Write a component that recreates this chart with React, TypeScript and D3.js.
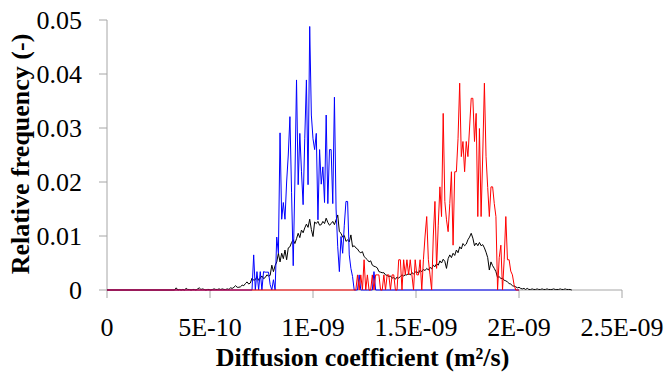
import React from "react";
import * as d3 from "d3";

// diffusion coefficient step between histogram bins (m2/s)
const binStep = 8e-12;

const xTicks = [0, 5e-10, 1e-9, 1.5e-9, 2e-9, 2.5e-9];
const xTickLabels = ["0", "5E-10", "1E-09", "1.5E-09", "2E-09", "2.5E-09"];
const yTicks = [0, 0.01, 0.02, 0.03, 0.04, 0.05];
const yTickLabels = ["0", "0.01", "0.02", "0.03", "0.04", "0.05"];

// blue series, first bin index 88
const blueStart = 88;
const blueValues = [
  0, 0.0065, 0, 0.0034, 0, 0.0034, 0, 0.0034, 0.0033, 0.0033,
  0.0033, 0.001, 0, 0.0019, 0, 0.0098, 0.0068, 0.0291, 0.0131, 0.0162,
  0.0131, 0.02, 0.025, 0.0321, 0.018, 0.0045, 0.02, 0.0389, 0.0195, 0.029,
  0.022, 0.0158, 0.028, 0.0389, 0.0195, 0.0488, 0.0324, 0.028, 0.026, 0.029,
  0.013, 0.026, 0.0196, 0.0228, 0.0162, 0.0324, 0.016, 0.026, 0.026, 0.016,
  0.0357, 0.015, 0.008, 0.0034, 0.0099, 0.0068, 0.012, 0.0164, 0.0164, 0.0065,
  0.004, 0.0025, 0, 0, 0, 0.0028, 0, 0, 0, 0,
  0, 0, 0, 0, 0.0034, 0,
];
const blueEnd = 2e-9;

// red series, first bin index 150
const redStart = 150;
const redValues = [
  0, 0, 0.0028, 0, 0.0028, 0, 0.0056, 0, 0.0028, 0,
  0, 0.0028, 0, 0.0028, 0.0028, 0.0028, 0, 0, 0.0028, 0,
  0.0028, 0.0028, 0, 0.0028, 0.0028, 0, 0, 0.0056, 0.0056, 0,
  0.0056, 0.0028, 0.0056, 0.0028, 0.0056, 0.0028, 0, 0.0056, 0.0028, 0.0028,
  0.0056, 0, 0.0056, 0.01, 0.0136, 0.0056, 0.0028, 0, 0.01, 0.0164,
  0.004, 0.012, 0.0191, 0.0136, 0.0327, 0.0164, 0.013, 0.0108, 0.016, 0.0219,
  0.0083, 0.0219, 0.0219, 0.028, 0.0383, 0.0247, 0.0275, 0.0219, 0.0275, 0.0247,
  0.03, 0.0355, 0.0355, 0.0275, 0.0327, 0.0136, 0.0299, 0.0136, 0.025, 0.0383,
  0.0247, 0.019, 0.0136, 0.0191, 0.0191, 0.016, 0.0136, 0, 0.006, 0.0083,
  0, 0.0056, 0.0136, 0.0056, 0.0056, 0.0035, 0.0028, 0.001, 0,
];
const redEnd = 2e-9;

// black series, first bin index 40
const blackStart = 40;
const blackValues = [
  0, 0, 0.0004, 0, 0.0001, 0, 0.0001, 0, 0.0003, 0.0001,
  0.0001, 0, 0.0001, 0.0001, 0, 0.0002, 0.0004, 0.0001, 0.0002, 0.0001,
  0, 0.0001, 0.0001, 0, 0.0001, 0.0002, 0.0001, 0.0001, 0.0002, 0.0001,
  0.0002, 0.0001, 0.0001, 0.0002, 0.0001, 0.0004, 0.0003, 0.0005, 0.0008, 0.0005,
  0.0005, 0.0006, 0.0009, 0.0008, 0.0012, 0.0015, 0.0011, 0.0013, 0.0022, 0.0018,
  0.0019, 0.0025, 0.0018, 0.0022, 0.0026, 0.0021, 0.0023, 0.0028, 0.0026, 0.0027,
  0.0046, 0.0034, 0.0045, 0.0052, 0.0068, 0.0052, 0.0068, 0.0058, 0.0074, 0.0056,
  0.0078, 0.008, 0.0088, 0.0093, 0.0086, 0.0095, 0.0105, 0.0097, 0.0111, 0.0106,
  0.0115, 0.0122, 0.0116, 0.0131, 0.0112, 0.0099, 0.0126, 0.0123, 0.0127, 0.012,
  0.0121, 0.0127, 0.0123, 0.0133, 0.0125, 0.012, 0.0123, 0.0127, 0.0121, 0.013,
  0.0139, 0.0108, 0.0105, 0.0098, 0.0101, 0.009, 0.0093, 0.0089, 0.0102, 0.008,
  0.0082, 0.0078, 0.0076, 0.0071, 0.0069, 0.0071, 0.0062, 0.0059, 0.0056, 0.0052,
  0.0054, 0.0046, 0.0044, 0.0043, 0.0041, 0.0034, 0.0033, 0.0032, 0.0032, 0.0028,
  0.0027, 0.0025, 0.0026, 0.0022, 0.0023, 0.002, 0.0024, 0.0022, 0.0025, 0.0028,
  0.0026, 0.0028, 0.0028, 0.0031, 0.0028, 0.0032, 0.003, 0.0033, 0.0034, 0.0031,
  0.0037, 0.0034, 0.0038, 0.0036, 0.004, 0.0037, 0.0042, 0.0039, 0.0046, 0.0043,
  0.0049, 0.0046, 0.0054, 0.005, 0.0057, 0.0053, 0.004, 0.0058, 0.0065, 0.006,
  0.0068, 0.0064, 0.0074, 0.0069, 0.008, 0.0076, 0.0086, 0.0082, 0.0085, 0.0093,
  0.0098, 0.0105, 0.0096, 0.0082, 0.0087, 0.0082, 0.0088, 0.0082, 0.0084, 0.0078,
  0.007, 0.006, 0.0037, 0.0052, 0.0045, 0.004, 0.0034, 0.0023, 0.0025, 0.0021,
  0.0022, 0.0018, 0.0017, 0.0015, 0.0012, 0.0011, 0.0008, 0.0007, 0.0006, 0.0004,
  0.0005, 0.0003, 0.0002, 0.0003, 0.0001, 0.0003, 0.0001, 0.0001, 0.0002, 0.0001,
  0.0001, 0.0002, 0.0001, 0.0001, 0.0002, 0.0001, 0.0001, 0.0002, 0.0001, 0.0001,
  0.0001, 0.0002, 0.0001, 0.0001, 0.0001, 0.0002, 0.0001, 0.0001, 0.0002, 0.0001,
  0.0001, 0.0001, 0,
];

const width = 665, height = 374;
const margin = { left: 107, right: 43, top: 20, bottom: 84 };
const axisColor = "#a6a6a6";
const ff = "Times New Roman, Liberation Serif, Tinos, serif";

function toPoints(start: number, values: number[], end?: number): [number, number][] {
  const pts: [number, number][] = [[0, 0]];
  values.forEach((v, i) => pts.push([(start + i) * binStep, v]));
  if (end !== undefined) pts.push([end, 0]);
  return pts;
}

export default function App() {
  const x = d3.scaleLinear().domain([0, 2.5e-9]).range([margin.left, width - margin.right]);
  const y = d3.scaleLinear().domain([0, 0.05]).range([height - margin.bottom, margin.top]);
  const line = d3.line<[number, number]>().x(d => x(d[0])).y(d => y(d[1]));

  const series = [
    { name: "black", color: "#000000", pts: toPoints(blackStart, blackValues) },
    { name: "blue", color: "#0000ff", pts: toPoints(blueStart, blueValues, blueEnd) },
    { name: "red", color: "#ff0000", pts: toPoints(redStart, redValues, redEnd) },
  ];

  const y0 = y(0);
  const ts = { fontFamily: ff, fontSize: "26px" };

  return (
    <svg width={width} height={height} style={{ position: "absolute", left: 0, top: 0 }}>
      {yTicks.map((t, i) => (
        <line key={"yt" + i} x1={x(0) - 8} x2={x(0)} y1={y(t)} y2={y(t)} stroke={axisColor} />
      ))}
      {yTicks.map((t, i) => (
        <text key={"yl" + i} x={82} y={y(t) + 9} textAnchor="end" style={ts}>{yTickLabels[i]}</text>
      ))}
      {xTicks.map((t, i) => (
        <line key={"xt" + i} x1={x(t)} x2={x(t)} y1={y0} y2={y0 + 8} stroke={axisColor} />
      ))}
      {xTicks.map((t, i) => (
        <text key={"xl" + i} x={x(t)} y={336} textAnchor="middle" style={ts}>{xTickLabels[i]}</text>
      ))}
      <text x={(x(0) + x(2.5e-9)) / 2 - 2} y={366} textAnchor="middle" style={{ ...ts, fontWeight: 700 }}>
        Diffusion coefficient (m²/s)
      </text>
      <text transform="translate(29, 154) rotate(-90)" textAnchor="middle" style={{ ...ts, fontWeight: 700 }}>
        Relative frequency (-)
      </text>
      <line x1={x(0)} x2={x(2.5e-9)} y1={y0} y2={y0} stroke={axisColor} strokeWidth={1} />
      <line x1={x(0)} x2={x(0)} y1={y(0.05)} y2={y0} stroke={axisColor} strokeWidth={1} />
      {series.map(s => (
        <path key={s.name} d={line(s.pts) || ""} fill="none" stroke={s.color} strokeWidth={1} />
      ))}
    </svg>
  );
}
